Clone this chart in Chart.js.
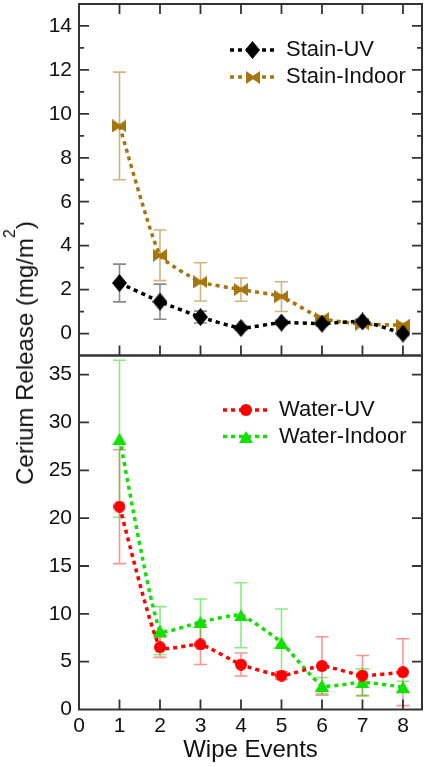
<!DOCTYPE html>
<html><head><meta charset="utf-8">
<script src="https://cdn.jsdelivr.net/npm/chart.js@4.4.1/dist/chart.umd.min.js"></script>
<style>
html,body{margin:0;padding:0;background:#fff;}
#wrap{position:relative;width:426px;height:767px;overflow:hidden;background:#fff;}
canvas{position:absolute;left:0;}
#ytitle{position:absolute;left:25px;top:353px;transform:translate(-50%,-50%) rotate(-90deg);font:24px "Liberation Sans",Arial,sans-serif;line-height:1;white-space:nowrap;color:#111;}
#ytitle .sup{font-size:16px;position:relative;top:-1.1em;}
</style></head><body>
<div id="wrap">
<canvas id="topChart" width="426" height="358" style="top:0"></canvas>
<canvas id="botChart" width="426" height="415" style="top:352px"></canvas>
<div id="ytitle">Cerium Release (mg/m<span class="sup">2</span>)</div>
</div>
<script>
// ---------- data ----------
const wipeEvents = [1, 2, 3, 4, 5, 6, 7, 8];
const stainUV = [2.3, 1.45, 0.75, 0.25, 0.5, 0.45, 0.55, 0.0];
const stainUVErr = [0.86, 0.8, 0.27, 0.1, 0.1, 0.1, 0.1, 0.1];
const stainIndoor = [9.45, 3.56, 2.35, 2.0, 1.68, 0.68, 0.43, 0.38];
const stainIndoorErr = [2.45, 1.15, 0.87, 0.53, 0.68, 0.12, 0.1, 0.1];
const waterUV = [21.2, 6.5, 6.8, 4.7, 3.55, 4.55, 3.55, 3.9];
const waterUVErr = [5.95, 1.05, 2.1, 1.2, 0.4, 3.05, 2.1, 3.5];
const waterIndoor = [28.3, 8.25, 9.15, 9.85, 7.0, 2.5, 2.85, 2.35];
const waterIndoorErr = [8.2, 2.5, 2.4, 3.4, 3.5, 0.85, 1.4, 0.6];
const xTickLabels = [0, 1, 2, 3, 4, 5, 6, 7, 8];
const yTicksTop = [0, 2, 4, 6, 8, 10, 12, 14];
const yTicksBottom = [0, 5, 10, 15, 20, 25, 30, 35];

const FONT = '"Liberation Sans", Arial, sans-serif';
const BROWN = '#A5750F', GREEN = '#11E000', RED = '#FF0000';

function makeMarker(kind, color, w, h) {
  const c = document.createElement('canvas');
  c.width = w; c.height = h;
  const g = c.getContext('2d');
  g.fillStyle = color;
  g.beginPath();
  if (kind === 'diamond') {
    g.moveTo(w / 2, 0); g.lineTo(w, h / 2); g.lineTo(w / 2, h); g.lineTo(0, h / 2);
  } else if (kind === 'bowtie') {
    g.moveTo(0, 0); g.lineTo(w / 2, h * 0.36); g.lineTo(w, 0); g.lineTo(w, h); g.lineTo(w / 2, h * 0.64); g.lineTo(0, h);
  } else if (kind === 'circle') {
    g.arc(w / 2, h / 2, w / 2, 0, Math.PI * 2);
  } else if (kind === 'triangle') {
    g.moveTo(w / 2, 0); g.lineTo(w, h); g.lineTo(0, h);
  }
  g.closePath();
  g.fill();
  return c;
}
const mDiamond = makeMarker('diamond', '#000', 15, 18);
const mBowtie = makeMarker('bowtie', BROWN, 14, 13);
const mCircle = makeMarker('circle', RED, 12, 12);
const mTriangle = makeMarker('triangle', GREEN, 14, 12);

const toXY = vals => wipeEvents.map((x, i) => ({ x: x, y: vals[i] }));

function series(label, vals, color, img) {
  return {
    label: label, data: toXY(vals), borderColor: color, backgroundColor: color,
    borderWidth: 3.5, borderDash: [4, 4], pointStyle: img, pointRadius: 7,
    pointHoverRadius: 7, tension: 0.15, fill: false
  };
}

function panelPlugin(cfg) {
  return {
    id: 'panel_' + cfg.name,
    beforeDatasetsDraw(chart) {
      const ctx = chart.ctx, a = chart.chartArea, xs = chart.scales.x, ys = chart.scales.y;
      ctx.save();
      ctx.setLineDash([]);
      // error bars
      cfg.errors.forEach((e, di) => {
        ctx.strokeStyle = e.color; ctx.lineWidth = 1.6;
        const d = chart.data.datasets[di].data;
        e.err.forEach((er, j) => {
          const px = xs.getPixelForValue(d[j].x);
          const yt = ys.getPixelForValue(d[j].y + er), yb = ys.getPixelForValue(d[j].y - er);
          const cap = 6.5;
          ctx.beginPath();
          ctx.moveTo(px, yt); ctx.lineTo(px, yb);
          ctx.moveTo(px - cap, yt); ctx.lineTo(px + cap, yt);
          ctx.moveTo(px - cap, yb); ctx.lineTo(px + cap, yb);
          ctx.stroke();
        });
      });
      // frame
      ctx.strokeStyle = '#333'; ctx.lineWidth = 2;
      ctx.strokeRect(a.left, a.top, a.right - a.left, a.bottom - a.top);
      // ticks
      ctx.lineWidth = 1.8;
      ctx.beginPath();
      cfg.yMajor.forEach(v => {
        if (v <= ys.min || v >= ys.max) return;
        const py = ys.getPixelForValue(v);
        ctx.moveTo(a.left, py); ctx.lineTo(a.left + 10, py);
        ctx.moveTo(a.right, py); ctx.lineTo(a.right - 10, py);
      });
      cfg.yMinor.forEach(v => {
        const py = ys.getPixelForValue(v);
        ctx.moveTo(a.left, py); ctx.lineTo(a.left + 5, py);
        ctx.moveTo(a.right, py); ctx.lineTo(a.right - 5, py);
      });
      xTickLabels.forEach(v => {
        if (v <= xs.min) return;
        const px = xs.getPixelForValue(v);
        ctx.moveTo(px, a.bottom); ctx.lineTo(px, a.bottom - 10);
        if (cfg.xTop) { ctx.moveTo(px, a.top); ctx.lineTo(px, a.top + 10); }
      });
      ctx.stroke();
      ctx.restore();
    },
    afterDatasetsDraw(chart) {
      const ctx = chart.ctx;
      ctx.save();
      cfg.legend.forEach(L => {
        ctx.strokeStyle = L.color; ctx.lineWidth = 3.5; ctx.setLineDash([4, 4]);
        ctx.beginPath(); ctx.moveTo(L.x1, L.y); ctx.lineTo(L.x2, L.y); ctx.stroke();
        ctx.setLineDash([]);
        const mx = (L.x1 + L.x2) / 2;
        ctx.drawImage(L.img, Math.round(mx - L.img.width / 2), Math.round(L.y - L.img.height / 2));
        ctx.fillStyle = '#111'; ctx.font = '22px ' + FONT; ctx.textBaseline = 'middle'; ctx.textAlign = 'left';
        ctx.fillText(L.label, L.tx, L.y);
      });
      ctx.restore();
    }
  };
}

function yScale(min, max, tickVals) {
  return {
    type: 'linear', min: min, max: max,
    afterBuildTicks: s => { s.ticks = tickVals.map(v => ({ value: v })); },
    afterFit: s => { s.width = 79; s.paddingTop = 0; s.paddingBottom = 0; },
    grid: { display: false, drawTicks: false }, border: { display: false },
    ticks: { padding: 7, color: '#111', font: { family: FONT, size: 21 } }
  };
}

const common = {
  responsive: false, animation: false, devicePixelRatio: 1,
  plugins: { legend: { display: false }, tooltip: { enabled: false } },
  events: []
};

new Chart(document.getElementById('topChart'), {
  type: 'line',
  data: { datasets: [
    series('Stain-UV', stainUV, '#000', mDiamond),
    series('Stain-Indoor', stainIndoor, BROWN, mBowtie)
  ] },
  options: Object.assign({}, common, {
    layout: { autoPadding: false, padding: { top: 4, bottom: 2.5, left: 0, right: 4 } },
    scales: {
      x: { type: 'linear', min: 0, max: 8.47, display: false },
      y: yScale(-1, 15, yTicksTop)
    }
  }),
  plugins: [panelPlugin({
    name: 'top', xTop: true,
    yMajor: yTicksTop, yMinor: [1, 3, 5, 7, 9, 11, 13],
    errors: [ { color: 'rgba(60,60,60,0.6)', err: stainUVErr }, { color: 'rgba(170,120,20,0.55)', err: stainIndoorErr } ],
    legend: [
      { label: 'Stain-UV', color: '#000', img: mDiamond, x1: 230, x2: 275, y: 50, tx: 286 },
      { label: 'Stain-Indoor', color: BROWN, img: mBowtie, x1: 230, x2: 275, y: 77, tx: 286 }
    ]
  })]
});

new Chart(document.getElementById('botChart'), {
  type: 'line',
  data: { datasets: [
    series('Water-UV', waterUV, RED, mCircle),
    series('Water-Indoor', waterIndoor, GREEN, mTriangle)
  ] },
  options: Object.assign({}, common, {
    layout: { autoPadding: false, padding: { top: 3.5, bottom: 0, left: 0, right: 4 } },
    scales: {
      x: {
        type: 'linear', min: 0, max: 8.47,
        afterBuildTicks: s => { s.ticks = xTickLabels.map(v => ({ value: v })); },
        afterFit: s => { s.height = 57.5; s.paddingLeft = 0; s.paddingRight = 0; },
        grid: { display: false, drawTicks: false }, border: { display: false },
        ticks: { padding: 4, color: '#111', autoSkip: false, maxRotation: 0, font: { family: FONT, size: 21 } },
        title: { display: true, text: 'Wipe Events', color: '#111', font: { family: FONT, size: 24 }, padding: { top: 0, bottom: 2.6 } }
      },
      y: yScale(0, 37, yTicksBottom)
    }
  }),
  plugins: [panelPlugin({
    name: 'bot', xTop: false,
    yMajor: yTicksBottom, yMinor: [],
    errors: [ { color: 'rgba(255,60,60,0.55)', err: waterUVErr }, { color: 'rgba(40,220,20,0.55)', err: waterIndoorErr } ],
    legend: [
      { label: 'Water-UV', color: RED, img: mCircle, x1: 223, x2: 268, y: 58, tx: 279 },
      { label: 'Water-Indoor', color: GREEN, img: mTriangle, x1: 223, x2: 268, y: 84.5, tx: 279 }
    ]
  })]
});
</script>
</body></html>
